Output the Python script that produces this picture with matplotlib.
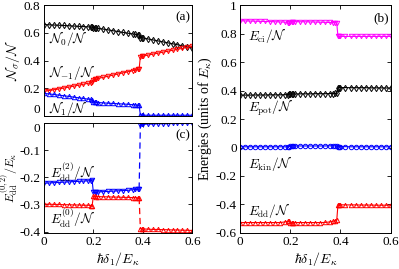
import numpy as np
import matplotlib
matplotlib.use("Agg")
import matplotlib.pyplot as plt

plt.rcParams['font.family'] = 'serif'
plt.rcParams['font.serif'] = ['Liberation Serif', 'DejaVu Serif']
plt.rcParams['mathtext.fontset'] = 'cm'
plt.rcParams['axes.unicode_minus'] = False
plt.rcParams['font.size'] = 10

# detuning grid (three branches separated by jumps)
delta1 = [0.00, 0.02, 0.04, 0.06, 0.08, 0.10, 0.12, 0.14, 0.16, 0.18, 0.19, 0.195,
          0.20, 0.205, 0.21, 0.22, 0.24, 0.26, 0.28, 0.30, 0.32, 0.34, 0.36, 0.37, 0.38, 0.385,
          0.39, 0.395, 0.40, 0.42, 0.44, 0.46, 0.48, 0.50, 0.52, 0.54, 0.56, 0.58, 0.60]

# (a) populations
N0 = [0.660, 0.658, 0.656, 0.655, 0.653, 0.651, 0.649, 0.647, 0.645, 0.643, 0.641, 0.640,
      0.637, 0.636, 0.635, 0.632, 0.627, 0.621, 0.615, 0.609, 0.603, 0.597, 0.592, 0.589, 0.586, 0.584,
      0.566, 0.565, 0.563, 0.556, 0.549, 0.542, 0.535, 0.528, 0.521, 0.514, 0.506, 0.498, 0.490]
Nm1 = [0.177, 0.183, 0.189, 0.195, 0.201, 0.208, 0.215, 0.222, 0.229, 0.236, 0.240, 0.243,
       0.262, 0.264, 0.266, 0.271, 0.279, 0.287, 0.295, 0.303, 0.311, 0.319, 0.327, 0.331, 0.336, 0.340,
       0.428, 0.430, 0.432, 0.439, 0.446, 0.453, 0.460, 0.467, 0.474, 0.481, 0.488, 0.495, 0.502]
N1 = [0.163, 0.159, 0.155, 0.150, 0.146, 0.141, 0.136, 0.131, 0.126, 0.121, 0.119, 0.117,
      0.101, 0.100, 0.099, 0.097, 0.094, 0.092, 0.090, 0.088, 0.086, 0.084, 0.081, 0.079, 0.078, 0.076,
      0.006, 0.005, 0.005, 0.005, 0.005, 0.005, 0.005, 0.005, 0.005, 0.005, 0.005, 0.005, 0.005]

# (c) dipolar energy components
Edd2 = [-0.222, -0.221, -0.220, -0.219, -0.218, -0.217, -0.216, -0.215, -0.214, -0.213, -0.212, -0.211,
        -0.256, -0.255, -0.255, -0.254, -0.253, -0.252, -0.251, -0.250, -0.249, -0.248, -0.246, -0.245, -0.244, -0.242,
        -0.006, -0.005, -0.005, -0.004, -0.004, -0.003, -0.003, -0.003, -0.002, -0.002, -0.002, -0.002, -0.002]
Edd0 = [-0.299, -0.299, -0.300, -0.300, -0.301, -0.301, -0.302, -0.302, -0.303, -0.303, -0.304, -0.304,
        -0.270, -0.270, -0.271, -0.271, -0.272, -0.272, -0.273, -0.273, -0.274, -0.274, -0.275, -0.275, -0.276, -0.276,
        -0.389, -0.390, -0.390, -0.391, -0.392, -0.392, -0.393, -0.393, -0.394, -0.394, -0.395, -0.395, -0.396]

# (b) energies
Eci = [0.890, 0.889, 0.888, 0.887, 0.886, 0.885, 0.884, 0.883, 0.882, 0.880, 0.876, 0.872,
       0.884, 0.884, 0.884, 0.884, 0.883, 0.883, 0.882, 0.881, 0.880, 0.879, 0.878, 0.877, 0.876, 0.875,
       0.780, 0.780, 0.780, 0.780, 0.780, 0.780, 0.780, 0.780, 0.780, 0.780, 0.780, 0.780, 0.780]
Epot = [0.368, 0.368, 0.368, 0.369, 0.369, 0.369, 0.370, 0.370, 0.370, 0.371, 0.372, 0.373,
        0.376, 0.376, 0.376, 0.376, 0.377, 0.377, 0.377, 0.378, 0.378, 0.378, 0.379, 0.379, 0.380, 0.380,
        0.421, 0.421, 0.421, 0.421, 0.420, 0.420, 0.420, 0.420, 0.419, 0.419, 0.419, 0.418, 0.418]
Ekin = [0.005, 0.005, 0.005, 0.005, 0.005, 0.005, 0.005, 0.005, 0.005, 0.005, 0.005, 0.006,
        0.011, 0.011, 0.011, 0.011, 0.011, 0.011, 0.011, 0.011, 0.011, 0.011, 0.012, 0.012, 0.012, 0.012,
        0.006, 0.006, 0.006, 0.006, 0.005, 0.005, 0.005, 0.005, 0.005, 0.005, 0.005, 0.005, 0.005]
Edd = [-0.527, -0.527, -0.527, -0.527, -0.527, -0.527, -0.527, -0.527, -0.527, -0.522, -0.518, -0.515,
       -0.527, -0.527, -0.527, -0.527, -0.527, -0.527, -0.527, -0.527, -0.527, -0.526, -0.522, -0.518, -0.514, -0.512,
       -0.402, -0.402, -0.402, -0.403, -0.403, -0.403, -0.404, -0.404, -0.404, -0.405, -0.405, -0.405, -0.405]

x = np.array(delta1)
jump = 26  # first index of the last branch

mk = dict(markersize=3.2, markerfacecolor='none', markeredgewidth=0.7, linewidth=0.8)
lab = 9.5

fig = plt.figure(figsize=(3.99, 2.69), dpi=100)
ax_a = fig.add_axes([0.110, 0.569, 0.372, 0.412])
ax_c = fig.add_axes([0.110, 0.134, 0.372, 0.409])
ax_b = fig.add_axes([0.602, 0.134, 0.377, 0.847])

for ax in (ax_a, ax_b, ax_c):
    ax.tick_params(direction='in', top=True, right=True, length=3, width=0.6, pad=2.5,
                   labelsize=9.5)
    for s in ax.spines.values():
        s.set_linewidth(0.7)
    ax.set_xlim(0, 0.6)
    ax.set_xticks([0, 0.2, 0.4, 0.6])

# panel (a)
ax_a.plot(x, N0, 'd-', color='black', **mk)
ax_a.plot(x, Nm1, 'v-', color='red', **mk)
ax_a.plot(x, N1, '^-', color='blue', **mk)
ax_a.set_ylim(0, 0.8)
ax_a.set_yticks([0, 0.2, 0.4, 0.6, 0.8])
ax_a.set_yticklabels(['0', '0.2', '0.4', '0.6', '0.8'])
ax_a.get_yticklabels()[0].set_va('bottom')
ax_a.set_xticklabels([])
ax_a.set_ylabel(r'$\mathcal{N}_\sigma/\mathcal{N}$', fontsize=10)
ax_a.yaxis.set_label_coords(-0.15, 0.5)
ax_a.text(0.02, 0.56, r'$\mathcal{N}_0/\mathcal{N}$', va='center', fontsize=lab)
ax_a.text(0.02, 0.31, r'$\mathcal{N}_{-1}/\mathcal{N}$', va='center', fontsize=lab)
ax_a.text(0.02, 0.055, r'$\mathcal{N}_1/\mathcal{N}$', va='center', fontsize=lab)
ax_a.text(0.53, 0.71, '(a)', va='center', fontsize=lab)

# panel (c)
for y, m, c in ((Edd2, 'v', 'blue'), (Edd0, '^', 'red')):
    ax_c.plot(x[:jump], y[:jump], m + '-', color=c, **mk)
    ax_c.plot(x[jump:], y[jump:], m + '-', color=c, **mk)
    ax_c.plot([x[jump - 1], x[jump]], [y[jump - 1], y[jump]], '--', color=c, linewidth=0.9,
              dashes=(5, 3))
ax_c.set_ylim(-0.405, 0)
ax_c.set_yticks([-0.4, -0.3, -0.2, -0.1, 0])
ax_c.set_yticklabels(['-0.4', '-0.3', '-0.2', '-0.1', '0'])
ax_c.get_yticklabels()[-1].set_va('top')
ax_c.set_xticklabels(['0', '0.2', '0.4', '0.6'])
ax_c.set_xlabel(r'$\hbar\delta_1/E_\kappa$', fontsize=10, labelpad=1)
ax_c.set_ylabel(r'$E_{\rm dd}^{(0,2)}/E_\kappa$', fontsize=8.5)
ax_c.yaxis.set_label_coords(-0.155, 0.5)
ax_c.text(0.025, -0.183, r'$E_{\rm dd}^{(2)}/\mathcal{N}$', va='center', fontsize=lab)
ax_c.text(0.025, -0.35, r'$E_{\rm dd}^{(0)}/\mathcal{N}$', va='center', fontsize=lab)
ax_c.text(0.53, -0.045, '(c)', va='center', fontsize=lab)

# panel (b)
ax_b.plot(x, Eci, 'v-', color='magenta', **mk)
ax_b.plot(x, Epot, 'd-', color='black', **mk)
ax_b.plot(x, Ekin, 'o-', color='blue', **mk)
ax_b.plot(x, Edd, '^-', color='red', **mk)
ax_b.set_ylim(-0.6, 1)
ax_b.set_yticks([-0.6, -0.4, -0.2, 0, 0.2, 0.4, 0.6, 0.8, 1])
ax_b.set_yticklabels(['-0.6', '-0.4', '-0.2', '0', '0.2', '0.4', '0.6', '0.8', '1'])
ax_b.set_xticklabels(['0', '0.2', '0.4', '0.6'])
ax_b.set_xlabel(r'$\hbar\delta_1/E_\kappa$', fontsize=10, labelpad=1)
ax_b.set_ylabel(r'Energies (units of $E_\kappa$)', fontsize=10)
ax_b.yaxis.set_label_coords(-0.175, 0.5)
ax_b.text(0.03, 0.79, r'$E_{\rm ci}/\mathcal{N}$', va='center', fontsize=lab)
ax_b.text(0.03, 0.28, r'$E_{\rm pot}/\mathcal{N}$', va='center', fontsize=lab)
ax_b.text(0.03, -0.11, r'$E_{\rm kin}/\mathcal{N}$', va='center', fontsize=lab)
ax_b.text(0.03, -0.44, r'$E_{\rm dd}/\mathcal{N}$', va='center', fontsize=lab)
ax_b.text(0.53, 0.91, '(b)', va='center', fontsize=lab)

fig.savefig('out.png', dpi=100)
